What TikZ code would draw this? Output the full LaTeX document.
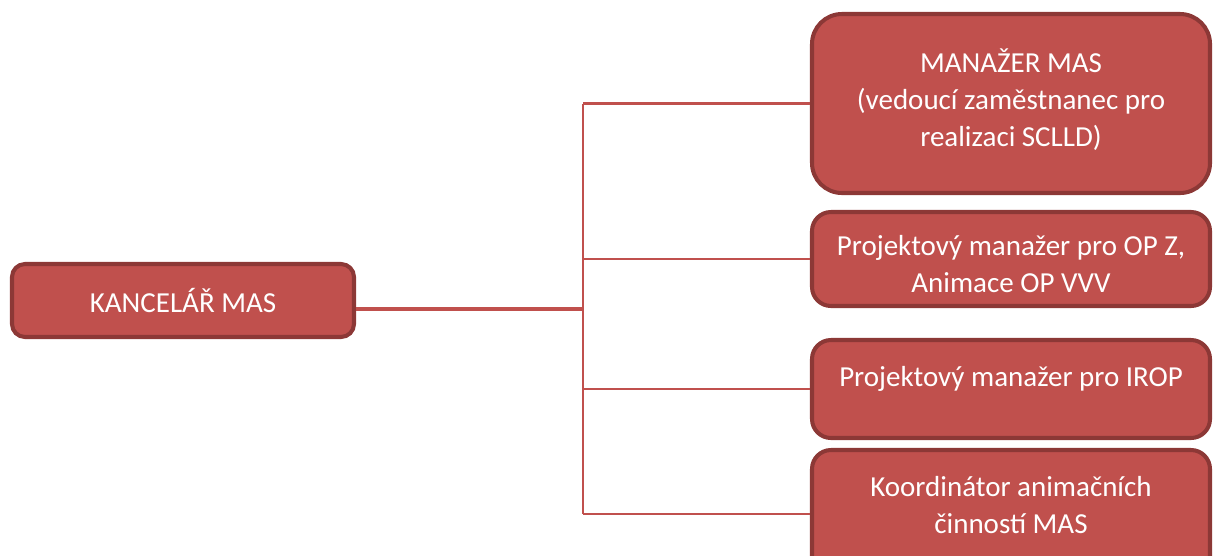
\documentclass[tikz,border=0pt]{standalone}
\usepackage{fontspec}
\setmainfont{Carlito}
\usetikzlibrary{positioning}
\definecolor{boxRed}{RGB}{192, 80, 77}
\definecolor{edgeRed}{RGB}{140, 56, 54}

\begin{document}
\begin{tikzpicture}[x=0.02cm, y=-0.02cm,
    box/.style={draw=edgeRed, fill=boxRed, line width=2.3pt, rounded corners=0.38cm,
        text=white, align=center, inner sep=0pt, minimum width=398*0.02cm,
        font=\fontsize{16.5}{21}\selectfont},
    trunk/.style={boxRed, line width=1.9pt},
    branch/.style={boxRed, line width=1.2pt}]
    \useasboundingbox (0,0) rectangle (1213,555);
    \node[box, rounded corners=0.26cm, minimum width=342*0.02cm, minimum height=73*0.02cm] (kanc) at (183,300.5) {KANCELÁŘ MAS};
    \node[box, rounded corners=0.6cm, minimum height=179*0.02cm, text depth=11*0.02cm] (man) at (1011,103.5)
        {MANAŽER MAS\\(vedoucí zaměstnanec pro\\realizaci SCLLD)};
    \node[box, minimum height=94*0.02cm, text height=38pt] (opz) at (1011,259) {Projektový manažer pro OP Z,\\Animace OP VVV};
    \node[box, minimum height=98*0.02cm, text depth=26*0.02cm] (irop) at (1011,389) {Projektový manažer pro IROP};
    \node[box, minimum height=128*0.02cm, text depth=18*0.02cm] (koord) at (1011,514) {Koordinátor animačních\\činností MAS};
    % joint
    \coordinate (j) at (583,309);
    \draw[trunk] (j -| kanc.east) -- (j);
    \draw[branch] (j |- man.west) -- (j |- koord.west);
    \foreach \b in {man, opz, irop, koord}
        \draw[branch] (j |- \b.west) -- (\b.west);
\end{tikzpicture}
\end{document}
